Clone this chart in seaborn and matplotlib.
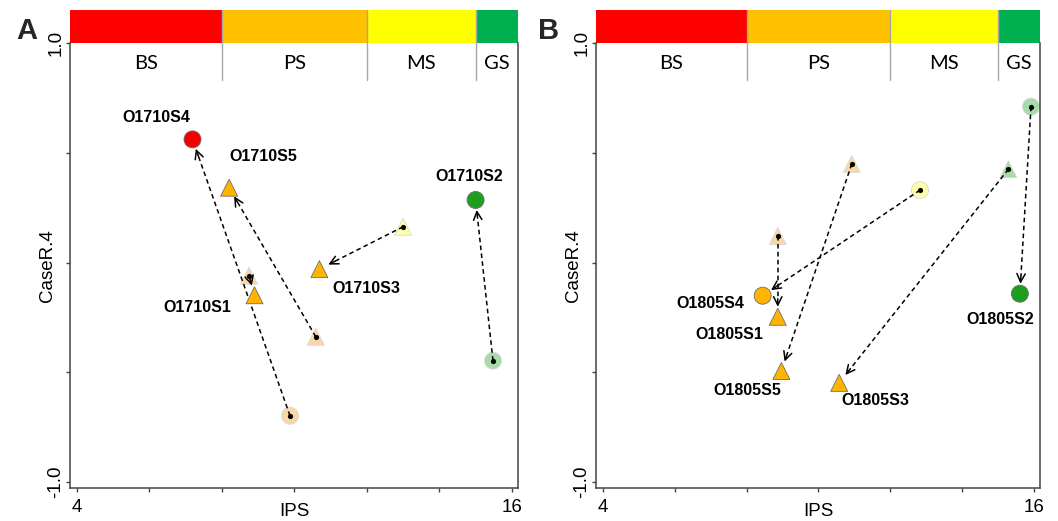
import numpy as np
import pandas as pd
import matplotlib
matplotlib.use("Agg")
import matplotlib.pyplot as plt
import matplotlib.transforms as mtransforms
import seaborn as sns

# ==========================
# DATA
# ==========================
regions = ["BS", "PS", "MS", "GS"]
region_edges = [8, 12, 15]
bar_colors = ["#FF0000", "#FFC000", "#FFFF00", "#00B050"]

state_colors = {"BS": "#F50000", "PS": "#FFB400", "MS": "#FFFF00", "GS": "#1E9E1E"}
faded_colors = {"BS": "#F9A0A0", "PS": "#FAD7A6", "MS": "#FFFFAA", "GS": "#A8DBA8"}

a_samples = ["O1710S1", "O1710S2", "O1710S3", "O1710S4", "O1710S5"]
a_x_start = [8.75, 15.48, 13.00, 9.88, 10.59]
a_y_start = [-0.060, -0.447, 0.163, -0.698, -0.338]
a_x_end = [8.90, 15.00, 10.69, 7.19, 8.20]
a_y_end = [-0.149, 0.285, -0.030, 0.561, 0.341]
a_state_start = ["PS", "GS", "MS", "PS", "PS"]
a_state_end = ["PS", "GS", "PS", "BS", "PS"]

b_samples = ["O1805S1", "O1805S2", "O1805S3", "O1805S4", "O1805S5"]
b_x_start = [8.87, 15.92, 15.29, 12.83, 10.93]
b_y_start = [0.121, 0.710, 0.425, 0.330, 0.449]
b_x_end = [8.87, 15.61, 10.58, 8.45, 8.97]
b_y_end = [-0.247, -0.142, -0.548, -0.151, -0.494]
b_state_start = ["PS", "GS", "GS", "MS", "PS"]
b_state_end = ["PS", "GS", "PS", "PS", "PS"]

shapes = ["triangle", "circle", "triangle", "circle", "triangle"]

# label offsets in pixels from the final point
a_label_offsets = [(-57, -12), (-6, 23), (47, -19), (-36, 22), (34, 31)]
b_label_offsets = [(-48, -18), (-20, -26), (36, -18), (-52, -8), (-34, -20)]

# ==========================
# STYLE
# ==========================
sns.set_theme(style="white")
plt.rcParams["font.family"] = ["Liberation Sans", "DejaVu Sans"]

W, H = 1058, 521
fig = plt.figure(figsize=(W / 100, H / 100), dpi=100)
axA = fig.add_axes([70 / W, 33 / H, 448 / W, 445 / H])
axB = fig.add_axes([596 / W, 33 / H, 444 / W, 445 / H])

XLIM = (3.81, 16.17)
YLIM = (-1.027, 1.0)
spine_col = "#444444"
markers = {"circle": "o", "triangle": "^"}


def draw_arrow(ax, x0, y0, x1, y1):
    p0 = ax.transData.transform((x0, y0))
    p1 = ax.transData.transform((x1, y1))
    u = (p1 - p0) / np.hypot(*(p1 - p0))
    tip = p1 - u * 10
    inv = ax.transData.inverted()
    tail = inv.transform(tip - u * 8)
    tip_d = inv.transform(tip)
    ax.plot([x0, tail[0]], [y0, tail[1]], ls=(0, (3, 2.2)), lw=1.1,
            color="black", zorder=3)
    ax.annotate("", xy=tip_d, xytext=tail,
                arrowprops=dict(arrowstyle="->,head_length=0.6,head_width=0.3",
                                lw=1.1, color="black", shrinkA=0, shrinkB=0,
                                mutation_scale=10),
                zorder=3)


def draw_panel(ax, samples, xs, ys, xe, ye, s_start, s_end, offsets, letter, lx):
    df = pd.DataFrame({
        "sample": samples, "x0": xs, "y0": ys, "x1": xe, "y1": ye,
        "state0": s_start, "state1": s_end, "shape": shapes,
    })

    ax.set_xlim(*XLIM)
    ax.set_ylim(*YLIM)

    # starting positions (faded)
    sns.scatterplot(data=df, x="x0", y="y0", hue="state0", style="shape",
                    palette=faded_colors, markers=markers, s=150,
                    edgecolor="#D9D9D9", linewidth=0.6, legend=False,
                    ax=ax, zorder=2)
    # arrows
    for r in df.itertuples():
        draw_arrow(ax, r.x0, r.y0, r.x1, r.y1)
    # small black dot at start
    ax.scatter(df["x0"], df["y0"], s=14, color="black", zorder=4, linewidths=0)
    # end positions
    sns.scatterplot(data=df, x="x1", y="y1", hue="state1", style="shape",
                    palette=state_colors, markers=markers, s=150,
                    edgecolor="#6E6E6E", linewidth=0.6, legend=False,
                    ax=ax, zorder=5)

    for r, (dx, dy) in zip(df.itertuples(), offsets):
        ax.annotate(r.sample, (r.x1, r.y1), xytext=(dx, dy),
                    textcoords="offset pixels", ha="center", va="center",
                    fontsize=11.5, fontweight="bold", color="black", zorder=6)

    # colored state bar above the plot
    trans = mtransforms.blended_transform_factory(ax.transData, ax.transAxes)
    bounds = [XLIM[0]] + region_edges + [XLIM[1]]
    for i, reg in enumerate(regions):
        ax.add_patch(plt.Rectangle((bounds[i], 1.0), bounds[i + 1] - bounds[i], 0.074,
                                   transform=trans, color=bar_colors[i],
                                   clip_on=False, zorder=1, lw=0))
        ax.text((bounds[i] + bounds[i + 1]) / 2, 0.955, reg, transform=trans,
                ha="center", va="center", fontsize=14.5, color="black",
                family=["Lato", "DejaVu Sans"])
    for e in region_edges:
        ax.plot([e, e], [0.917, 1.074], transform=trans, color="#A6A6A6",
                lw=1, clip_on=False, zorder=2)

    # axes styling
    ax.spines["top"].set_visible(False)
    for sp in ["left", "right", "bottom"]:
        ax.spines[sp].set_color(spine_col)
        ax.spines[sp].set_linewidth(1.1)
    ax.set_xticks([4, 6, 8, 10, 12, 14, 16])
    ax.set_xticklabels(["4", "", "", "", "", "", "16"])
    ax.set_yticks([-1.0, -0.5, 0.0, 0.5, 1.0])
    ax.set_yticklabels(["-1.0", "", "", "", "1.0"], rotation=90, va="center")
    ax.tick_params(axis="both", direction="out", length=3, width=1,
                   color=spine_col, labelsize=13.5, labelcolor="black",
                   left=True, bottom=True)
    ax.tick_params(axis="x", pad=5)
    ax.tick_params(axis="y", pad=1)
    ax.set_xlabel("IPS", fontsize=13.5, va="center", color="black")
    ax.set_ylabel("CaseR.4", fontsize=13.5, va="center", color="black")
    ax.xaxis.set_label_coords(0.5, -0.053)
    ax.yaxis.set_label_coords(-0.05, 0.5)
    ax.grid(False)

    fig.text(lx / W, 1 - 31 / H, letter, fontsize=21, fontweight="bold",
             ha="center", va="center")


draw_panel(axA, a_samples, a_x_start, a_y_start, a_x_end, a_y_end,
           a_state_start, a_state_end, a_label_offsets, "A", 27)
draw_panel(axB, b_samples, b_x_start, b_y_start, b_x_end, b_y_end,
           b_state_start, b_state_end, b_label_offsets, "B", 549)

fig.savefig("out.png", dpi=100)
